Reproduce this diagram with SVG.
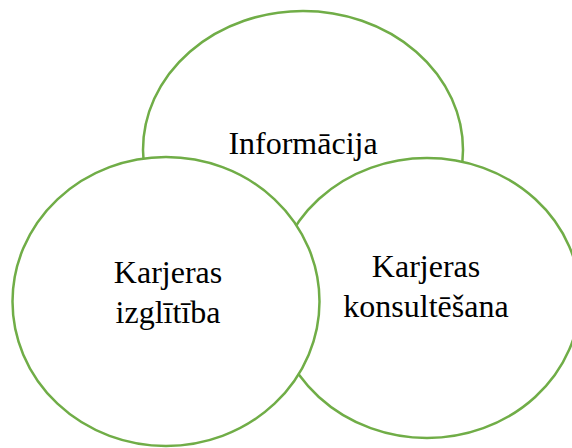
<svg xmlns="http://www.w3.org/2000/svg" width="572" height="448" viewBox="0 0 572 448">
<style>
.c{fill:#ffffff;stroke:#70AD47;stroke-width:2.5}
.t{font-family:"Liberation Serif","Times New Roman",serif;font-size:32px;fill:#000000;text-anchor:middle}
</style>
<rect width="572" height="448" fill="#ffffff"/>
<g id="informacija">
<ellipse class="c" cx="303" cy="150" rx="160" ry="139"/>
<text class="t" x="303" y="154">Informācija</text>
</g>
<g id="konsultesana">
<ellipse class="c" cx="427" cy="298" rx="153" ry="140"/>
<text class="t" x="426" y="277">Karjeras</text>
<text class="t" x="426" y="317">konsultēšana</text>
</g>
<g id="izglitiba">
<ellipse class="c" cx="166" cy="301.5" rx="153.5" ry="144.5"/>
<text class="t" x="168" y="283">Karjeras</text>
<text class="t" x="168" y="323">izglītība</text>
</g>
<g id="connectors"></g>
</svg>
